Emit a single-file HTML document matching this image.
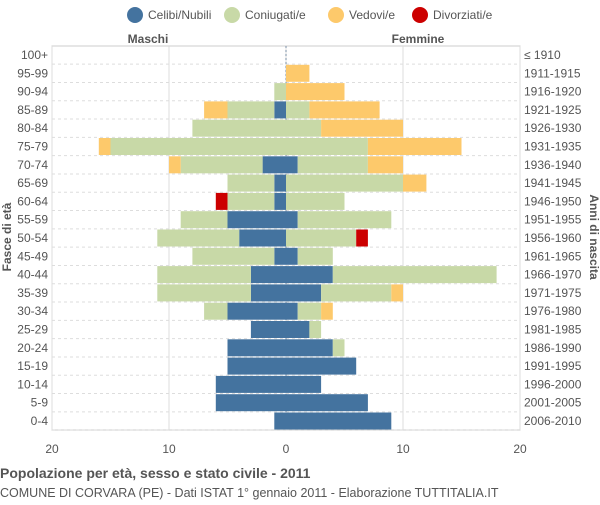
<!DOCTYPE html>
<html><head><meta charset="utf-8"><style>
body{margin:0;background:#fff;font-family:"Liberation Sans",sans-serif}
svg text{font-family:"Liberation Sans",sans-serif}
</style></head><body>
<svg id="c" width="600" height="500" xmlns="http://www.w3.org/2000/svg">
<g id="legend"></g>
<text x="148" y="43" font-size="12" font-weight="bold" fill="#555" text-anchor="middle">Maschi</text>
<text x="418" y="43" font-size="12" font-weight="bold" fill="#555" text-anchor="middle">Femmine</text>
<g id="grid"></g><g id="bars"></g><g id="labels"></g>
<text x="11" y="237" font-size="12" font-weight="bold" fill="#555" text-anchor="middle" transform="rotate(-90 11 237)">Fasce di età</text>
<text x="590" y="237" font-size="12" font-weight="bold" fill="#555" text-anchor="middle" transform="rotate(90 590 237)">Anni di nascita</text>
<text x="0" y="478" font-size="14" font-weight="bold" fill="#555">Popolazione per età, sesso e stato civile - 2011</text>
<text x="0" y="497" font-size="12.5" fill="#555">COMUNE DI CORVARA (PE) - Dati ISTAT 1° gennaio 2011 - Elaborazione TUTTITALIA.IT</text>
</svg>
<script>
const ages=["100+","95-99","90-94","85-89","80-84","75-79","70-74","65-69","60-64","55-59","50-54","45-49","40-44","35-39","30-34","25-29","20-24","15-19","10-14","5-9","0-4"];
const years=["≤ 1910","1911-1915","1916-1920","1921-1925","1926-1930","1931-1935","1936-1940","1941-1945","1946-1950","1951-1955","1956-1960","1961-1965","1966-1970","1971-1975","1976-1980","1981-1985","1986-1990","1991-1995","1996-2000","2001-2005","2006-2010"];
const mCel=[0,0,0,1,0,0,2,1,1,5,4,1,3,3,5,3,5,5,6,6,1];
const mCon=[0,0,1,4,8,15,7,4,4,4,7,7,8,8,2,0,0,0,0,0,0];
const mVed=[0,0,0,2,0,1,1,0,0,0,0,0,0,0,0,0,0,0,0,0,0];
const mDiv=[0,0,0,0,0,0,0,0,1,0,0,0,0,0,0,0,0,0,0,0,0];
const fCel=[0,0,0,0,0,0,1,0,0,1,0,1,4,3,1,2,4,6,3,7,9];
const fCon=[0,0,0,2,3,7,6,10,5,8,6,3,14,6,2,1,1,0,0,0,0];
const fVed=[0,2,5,6,7,8,3,2,0,0,0,0,0,1,1,0,0,0,0,0,0];
const fDiv=[0,0,0,0,0,0,0,0,0,0,1,0,0,0,0,0,0,0,0,0,0];
const ticks=[20,10,0,10,20];
const tickVals=[-20,-10,0,10,20];
const colors=["#44739f","#c8d9a7","#fdc96b","#cc0000"];
const names=["Celibi/Nubili","Coniugati/e","Vedovi/e","Divorziati/e"];
const NS="http://www.w3.org/2000/svg";
const cx=286,sc=11.7,y0=55,step=18.3,bh=17;
const X=v=>cx+v*sc, Y=i=>y0+i*step;
function mk(t,a,p){const e=document.createElementNS(NS,t);for(const k in a)e.setAttribute(k,a[k]);p.appendChild(e);return e;}
const grid=document.getElementById('grid'),bars=document.getElementById('bars'),lab=document.getElementById('labels'),leg=document.getElementById('legend');
mk('rect',{x:52,y:46,width:468,height:384,fill:'none',stroke:'#ccc'},grid);
tickVals.forEach((v,i)=>{
 const l=mk('line',{x1:X(v),x2:X(v),y1:46,y2:430,stroke:'#ddd'},grid);
 
 
 const t=mk('text',{x:X(v),y:453,'font-size':12,fill:'#555','text-anchor':'middle'},lab);
 t.textContent=ticks[i];
 
 
});
ages.forEach((a,i)=>{
 const y=Y(i);
 mk('line',{x1:52,x2:520,y1:y+step/2,y2:y+step/2,stroke:'#ddd','stroke-dasharray':'3,3'},grid);
 const t=mk('text',{x:48,y:y+4,'font-size':12,fill:'#555','text-anchor':'end'},lab);t.textContent=a;
 
 
 const t2=mk('text',{x:524,y:y+4,'font-size':12,fill:'#555'},lab);t2.textContent=years[i];
 
 
 let acc=0;[mCel,mCon,mVed,mDiv].forEach((arr,k)=>{const v=arr[i];if(v>0){
  const r=mk('rect',{x:X(-(acc+v)),y:y-bh/2,width:v*sc,height:bh,fill:colors[k]},bars);
  
  }acc+=v;});
 acc=0;[fCel,fCon,fVed,fDiv].forEach((arr,k)=>{const v=arr[i];if(v>0){
  const r=mk('rect',{x:X(acc),y:y-bh/2,width:v*sc,height:bh,fill:colors[k]},bars);
  
  }acc+=v;});
});
mk('line',{x1:cx,x2:cx,y1:46,y2:430,stroke:'#7a8fa6','stroke-dasharray':'2,2'},grid);
const lx=[135,232,336,420];
names.forEach((n,k)=>{
 const g=mk('g',{},leg);
 
 
 mk('circle',{cx:lx[k],cy:15,r:8,fill:colors[k]},g);
 const t=mk('text',{x:lx[k]+13,y:19,'font-size':12,fill:'#555'},g);t.textContent=n;
});
</script>
</body></html>
